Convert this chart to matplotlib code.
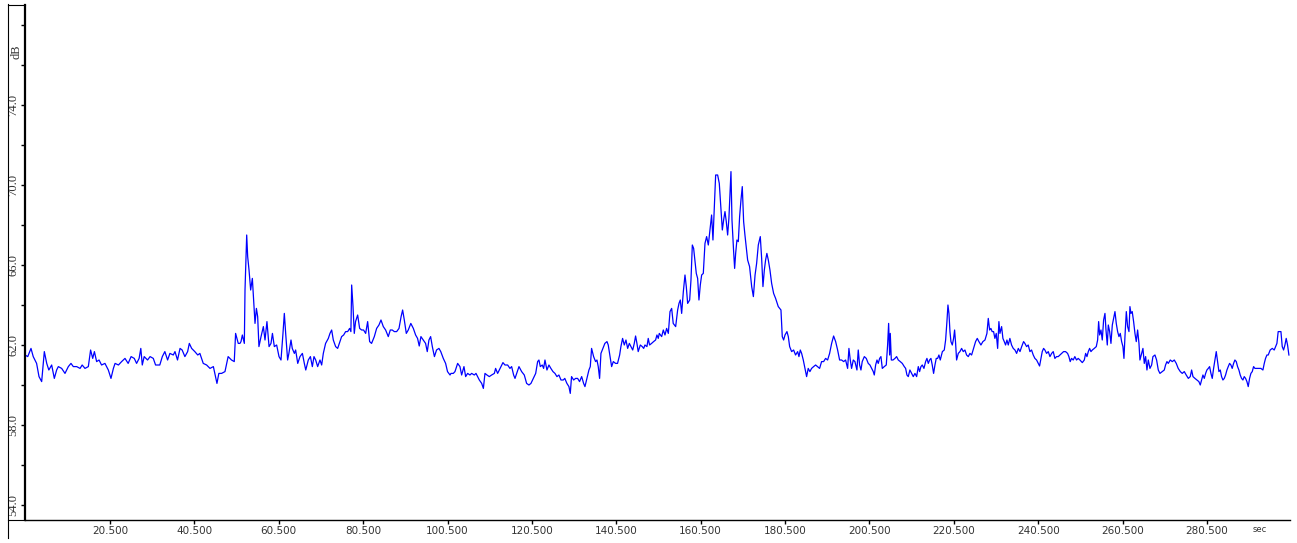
import matplotlib
matplotlib.use("Agg")
import matplotlib.pyplot as plt
from matplotlib.lines import Line2D

# sound level trace (sec, dB)
t = [
    0.35, 1.0, 1.77, 2.3, 3.1, 3.67, 4.3, 4.93, 5.5, 6.0, 6.67, 7.3, 7.85, 8.25, 9.04, 9.83,
    10.62, 11.25, 11.8, 12.6, 13.4, 13.9, 14.57, 15.36, 15.9, 16.4, 16.8, 17.33, 17.9, 18.5,
    19.3, 20.1, 20.73, 21.3, 21.7, 22.5, 23.25, 24.05, 24.8, 25.5, 26.25, 26.8, 27.4, 27.8,
    28.15, 28.6, 29.4, 30.0, 30.76, 31.3, 32.3, 32.9, 33.5, 34.15, 34.7, 35.5, 35.9, 36.5,
    37.1, 37.6, 38.25, 38.9, 39.3, 39.85, 40.6, 41.3, 41.8, 42.6, 43.4, 44.2, 45.0, 45.5,
    45.85, 46.3, 46.95, 47.75, 48.5, 49.3, 49.95, 50.27, 50.9, 51.3,
    # 51 - 101
    51.55, 51.87, 52.34, 52.5, 52.9, 53.13, 53.45, 53.84, 54.24, 54.55, 54.87, 55.2, 55.5,
    55.8, 56.3, 56.85, 57.24, 57.7, 58.2, 58.66, 59.0, 59.45, 60.0, 60.56, 61.03, 61.5,
    61.82, 62.14, 62.6, 62.9, 63.4, 63.7, 64.2, 64.5, 65.0, 65.53, 66.1, 66.56, 66.9, 67.5,
    68.0, 68.46, 68.85, 69.25, 69.72, 70.27, 70.67, 71.06, 71.6, 72.25, 72.64, 73.04, 73.43,
    73.98, 74.46, 75.0, 75.4, 75.88, 76.35, 76.83, 77.3, 77.6, 77.78, 78.1, 78.4, 78.7,
    79.2, 79.67, 80.15, 80.6, 81.1, 81.57, 82.04, 82.5, 83.15, 83.7, 84.25, 84.73, 85.28,
    85.83, 86.46, 86.94, 87.4, 87.9, 88.44, 89.0, 89.5, 89.86, 90.26, 90.73, 91.2, 91.8,
    92.4, 92.94, 93.4, 93.8, 94.2, 94.76, 95.3, 95.7, 96.1, 96.5, 96.9, 97.4, 97.9, 98.47,
    98.9, 99.5, 100.05, 100.5, 101.1,
    # 101 - 151
    101.32, 101.87, 102.27, 102.9, 103.45, 103.85, 104.4, 104.8, 105.27, 105.82, 106.22,
    106.85, 107.25, 107.64, 108.04, 108.6, 109.0, 109.38, 109.85, 110.4, 110.96, 111.6,
    111.9, 112.38, 112.78, 113.17, 113.64, 114.12, 114.75, 115.3, 115.7, 116.17, 116.5,
    117.04, 117.44, 118.07, 118.7, 119.25, 119.8, 120.28, 120.83, 121.4, 121.86, 122.17,
    122.5, 122.96, 123.28, 123.6, 124.07, 124.54, 125.0, 125.5, 125.97, 126.44, 126.9,
    127.4, 127.94, 128.3, 128.8, 129.28, 129.6, 129.9, 130.4, 130.86, 131.34, 131.8, 132.3,
    132.76, 133.08, 133.55, 134.02, 134.34, 134.65, 135.13, 135.6, 135.92, 136.23, 136.55,
    136.87, 137.34, 137.8, 138.3, 138.6, 138.92, 139.4, 139.8, 140.34, 140.8, 141.3, 141.6,
    142.0, 142.4, 142.8, 143.2, 143.6, 144.0, 144.4, 144.77, 145.08, 145.4, 145.7, 146.2,
    146.66, 147.0, 147.3, 147.77, 148.08, 148.4, 148.87, 149.35, 149.82, 150.14, 150.45, 150.7,
    # 151 - 201
    151.26, 151.65, 152.05, 152.44, 152.84, 153.24, 153.63, 154.0, 154.58, 155.05, 155.37,
    155.68, 156.0, 156.4, 156.79, 157.1, 157.42, 157.9, 158.21, 158.53, 158.84, 159.16,
    159.47, 159.79, 160.1, 160.42, 160.74, 161.13, 161.53, 161.92, 162.32, 162.71, 163.1,
    163.42, 163.74, 164.06, 164.53, 164.92, 165.24, 165.64, 165.95, 166.27, 166.58, 166.9,
    167.2, 167.5, 167.69, 167.93, 168.32, 168.56, 168.8, 169.1, 169.43, 169.74, 170.06,
    170.37, 170.69, 171.0, 171.3, 171.64, 172.1, 172.6, 173.0, 173.4, 173.77, 174.17, 174.64,
    174.96, 175.27, 175.6, 175.9, 176.2, 176.54, 176.93, 177.33, 177.8, 178.27, 178.9,
    179.54, 179.85, 180.17, 180.5, 180.96, 181.28, 181.6, 182.07, 182.54, 183.0, 183.5,
    183.8, 184.12, 184.44, 184.83, 185.23, 185.62, 186.0, 186.4, 186.8, 187.28, 187.75,
    188.2, 188.7, 189.17, 189.65, 190.12, 190.6, 191.07, 191.55, 192.02, 192.5, 192.97,
    193.44, 193.91, 194.4, 194.86, 195.34, 195.65, 195.97, 196.28, 196.68, 197.07, 197.55,
    197.86, 198.18, 198.5, 198.8, 199.3, 199.76, 200.23, 200.63,
    # 201 - 251
    201.03, 201.42, 201.66, 201.98, 202.3, 202.6, 202.93, 203.24, 203.56, 204.03, 204.5,
    204.82, 205.06, 205.3, 205.45, 205.7, 206.1, 206.56, 206.95, 207.35, 207.82, 208.3,
    208.77, 209.09, 209.4, 209.72, 210.1, 210.5, 210.9, 211.3, 211.7, 212.09, 212.4, 212.72,
    213.04, 213.43, 213.83, 214.14, 214.46, 214.77, 215.09, 215.4, 215.72, 216.04, 216.35,
    216.67, 216.98, 217.3, 217.8, 218.25, 218.57, 218.88, 219.12, 219.36, 219.6, 219.83,
    220.15, 220.46, 220.7, 220.94, 221.17, 221.57, 221.96, 222.36, 222.75, 223.15, 223.54,
    223.94, 224.33, 224.73, 225.2, 225.67, 226.07, 226.46, 226.94, 227.4, 227.9, 228.36,
    228.68, 229.0, 229.3, 229.6, 229.94, 230.25, 230.57, 230.9, 231.2, 231.44, 231.84,
    232.15, 232.47, 232.78, 233.1, 233.42, 233.8, 234.2, 234.6, 235.0, 235.4, 235.8, 236.2,
    236.6, 237.05, 237.36, 237.76, 238.15, 238.55, 238.94, 239.34, 239.73, 240.13, 240.52,
    240.84, 241.16, 241.47, 241.79, 242.1, 242.5, 242.9, 243.3, 243.7, 244.08, 244.47,
    244.87, 245.26, 245.66, 246.05, 246.53, 247.0, 247.48, 247.79, 248.1, 248.42, 248.82,
    249.2, 249.6, 250.0, 250.4,
    # 251 - 300
    250.97, 251.44, 251.76, 252.07, 252.39, 252.7, 253.02, 253.34, 253.81, 254.28, 254.6,
    254.84, 255.08, 255.39, 255.7, 256.02, 256.34, 256.58, 256.89, 257.13, 257.45, 257.76,
    258.08, 258.39, 258.71, 259.02, 259.34, 259.66, 259.97, 260.29, 260.6, 260.84, 261.08,
    261.4, 261.71, 262.03, 262.26, 262.5, 262.8, 263.13, 263.45, 263.76, 264.08, 264.4,
    264.63, 265.03, 265.34, 265.66, 265.98, 266.29, 266.61, 267.0, 267.4, 267.71, 268.19,
    268.58, 268.98, 269.37, 269.93, 270.4, 270.7, 271.03, 271.35, 271.82, 272.3, 272.77,
    273.24, 273.7, 274.2, 274.66, 275.14, 275.6, 276.1, 276.56, 276.88, 277.2, 277.67,
    278.14, 278.6, 278.93, 279.25, 279.56, 279.88, 280.2, 280.5, 280.83, 281.14, 281.46,
    281.77, 282.09, 282.4, 282.72, 283.04, 283.35, 283.67, 283.98, 284.3, 284.62, 284.93,
    285.25, 285.56, 285.88, 286.2, 286.5, 286.83, 287.14, 287.46, 287.77, 288.09, 288.4,
    288.72, 289.04, 289.35, 289.67, 289.99, 290.3, 290.62, 290.93, 291.25, 291.57, 291.88,
    292.36, 292.83, 293.3, 293.78, 294.1, 294.4, 294.73, 295.04, 295.5, 296.0, 296.46,
    296.78, 297.1, 297.4, 297.73, 298.05, 298.36, 298.68, 299.0, 299.3, 299.62, 299.94,
]

db = [
    61.5, 61.42, 61.83, 61.42, 61.08, 60.42, 60.17, 61.67, 61.08, 60.75, 61.0, 60.33, 60.75,
    60.92, 60.83, 60.58, 60.92, 61.08, 60.92, 60.92, 60.83, 61.0, 60.83, 60.92, 61.75, 61.33,
    61.67, 61.17, 61.25, 61.0, 61.08, 60.75, 60.33, 60.83, 61.08, 61.0, 61.17, 61.33, 61.08,
    61.42, 61.33, 61.08, 61.33, 61.83, 61.0, 61.42, 61.25, 61.42, 61.33, 61.0, 61.0, 61.42,
    61.67, 61.25, 61.58, 61.5, 61.67, 61.25, 61.83, 61.75, 61.42, 61.67, 62.08, 61.83, 61.67,
    61.5, 61.58, 61.08, 61.0, 60.83, 60.92, 60.42, 60.08, 60.58, 60.58, 60.67, 61.42, 61.25,
    61.17, 62.58, 62.08, 62.08,
    # 51 - 101
    62.17, 62.5, 62.08, 64.75, 67.5, 66.42, 65.75, 64.75, 65.33, 64.25, 63.08, 63.83, 63.42,
    61.92, 62.42, 62.92, 62.25, 63.17, 61.92, 62.08, 62.58, 61.92, 62.0, 61.42, 61.25, 62.58,
    63.58, 62.58, 61.25, 61.58, 62.25, 61.83, 61.58, 61.75, 61.08, 61.42, 61.58, 61.08, 60.75,
    61.25, 61.42, 60.92, 61.42, 61.25, 60.92, 61.25, 61.0, 61.58, 62.08, 62.33, 62.58, 62.75,
    62.25, 61.92, 61.83, 62.17, 62.42, 62.5, 62.67, 62.67, 62.83, 62.67, 65.0, 63.92, 62.58,
    63.17, 63.5, 62.83, 62.75, 62.75, 62.58, 63.17, 62.17, 62.08, 62.42, 62.83, 63.0, 63.25,
    62.92, 62.75, 62.42, 62.75, 62.75, 62.67, 62.67, 62.83, 63.42, 63.75, 63.25, 62.58, 62.75,
    63.08, 62.83, 62.5, 62.33, 61.95, 62.42, 62.25, 62.08, 61.67, 62.25, 62.42, 61.92, 61.42,
    61.75, 61.83, 61.67, 61.33, 61.08, 60.67, 60.5,
    # 101 - 151
    60.58, 60.58, 60.67, 61.08, 60.92, 60.5, 60.92, 60.42, 60.58, 60.5, 60.58, 60.5, 60.58,
    60.42, 60.25, 60.08, 59.83, 60.58, 60.5, 60.42, 60.5, 60.58, 60.83, 60.58, 60.75, 60.92,
    61.12, 61.0, 61.0, 60.83, 60.92, 60.5, 60.33, 60.67, 60.92, 60.67, 60.5, 60.08, 60.0,
    60.08, 60.33, 60.58, 61.17, 61.25, 60.92, 61.0, 60.83, 61.25, 60.75, 61.0, 60.83, 60.67,
    60.58, 60.42, 60.5, 60.25, 60.25, 60.33, 60.08, 59.92, 59.58, 60.42, 60.25, 60.33, 60.33,
    60.17, 60.42, 60.08, 59.92, 60.33, 60.75, 60.92, 61.83, 61.42, 61.17, 61.25, 60.92, 60.33,
    61.58, 61.83, 62.08, 62.17, 62.0, 61.58, 60.92, 61.17, 61.08, 61.08, 61.5, 61.92, 62.33,
    62.0, 62.25, 61.83, 62.08, 61.92, 61.75, 62.08, 62.45, 62.08, 61.67, 62.0, 61.92, 61.83,
    62.0, 61.92, 62.33, 62.0, 62.08, 62.17, 62.25, 62.5, 62.33, 62.58,
    # 151 - 201
    62.42, 62.75, 62.5, 62.83, 62.58, 63.67, 63.83, 63.08, 62.92, 63.75, 64.08, 64.25, 63.58,
    64.67, 65.5, 64.92, 64.08, 64.25, 65.25, 67.0, 66.83, 66.17, 65.58, 65.33, 64.25, 65.0,
    65.5, 65.58, 67.08, 67.42, 67.0, 67.75, 68.5, 67.25, 68.92, 70.5, 70.5, 70.08, 69.08,
    67.75, 68.25, 68.67, 68.17, 67.5, 68.33, 69.83, 70.67, 68.25, 66.67, 65.83, 66.58, 67.25,
    67.17, 68.42, 69.25, 69.92, 68.17, 67.5, 66.92, 66.25, 65.92, 64.92, 64.42, 65.5, 66.08,
    67.0, 67.42, 66.33, 64.92, 65.75, 66.25, 66.58, 66.25, 65.75, 65.08, 64.58, 64.33, 63.92,
    63.75, 62.42, 62.25, 62.5, 62.67, 62.42, 61.92, 61.67, 61.75, 61.5, 61.67, 61.42, 61.75,
    61.58, 61.25, 60.83, 60.42, 60.83, 60.67, 60.83, 60.92, 61.0, 60.92, 60.83, 61.17, 61.17,
    61.33, 61.25, 61.58, 62.08, 62.45, 62.17, 61.75, 61.25, 61.25, 61.17, 61.25, 60.83, 61.83,
    61.25, 60.83, 61.25, 61.17, 60.75, 61.75, 61.0, 60.75, 61.17, 61.42, 61.33, 61.08, 61.0,
    # 201 - 251
    60.83, 60.67, 60.5, 61.0, 61.25, 61.08, 61.33, 61.42, 60.83, 60.92, 61.0, 62.0, 63.08,
    61.5, 62.58, 61.25, 61.25, 61.33, 61.42, 61.25, 61.17, 61.08, 60.92, 60.83, 60.5, 60.42,
    60.75, 60.58, 60.42, 60.58, 60.42, 60.92, 60.67, 60.92, 61.0, 60.83, 61.17, 61.33, 61.08,
    61.25, 61.33, 61.0, 60.58, 61.0, 61.33, 61.33, 61.5, 61.25, 61.67, 61.75, 62.25, 63.17,
    64.0, 63.58, 62.67, 62.17, 62.0, 62.33, 62.75, 62.08, 61.25, 61.58, 61.67, 61.83, 61.67,
    61.75, 61.5, 61.42, 61.58, 61.5, 61.83, 62.17, 62.33, 62.17, 62.0, 62.17, 62.25, 62.58,
    63.33, 62.75, 62.83, 62.67, 62.67, 62.33, 62.58, 61.83, 63.17, 62.58, 62.92, 62.33, 62.17,
    62.0, 62.25, 62.0, 62.33, 62.0, 61.83, 61.75, 61.58, 61.83, 61.67, 61.92, 62.17, 62.08,
    61.92, 62.0, 61.67, 61.75, 61.5, 61.33, 61.25, 61.08, 60.95, 61.33, 61.67, 61.83, 61.75,
    61.58, 61.67, 61.42, 61.58, 61.67, 61.33, 61.42, 61.42, 61.5, 61.58, 61.67, 61.67, 61.58,
    61.42, 61.17, 61.33, 61.25, 61.42, 61.25, 61.33, 61.25,
    # 251 - 300
    61.12, 61.25, 61.58, 61.42, 61.67, 61.83, 61.67, 61.75, 61.83, 61.92, 62.25, 63.17, 62.5,
    62.75, 62.25, 63.25, 63.58, 62.75, 62.0, 63.0, 62.67, 62.08, 63.0, 63.33, 63.67, 63.08,
    62.67, 62.42, 62.58, 62.17, 61.92, 61.33, 62.42, 63.67, 62.92, 62.67, 63.92, 63.58, 63.67,
    63.17, 62.58, 62.17, 62.75, 62.08, 61.25, 61.58, 61.83, 61.08, 61.42, 60.75, 61.25, 60.83,
    61.0, 61.42, 61.5, 61.25, 60.75, 60.58, 60.67, 60.75, 61.0, 61.17, 61.08, 61.25, 61.17,
    61.25, 61.08, 60.83, 60.67, 60.58, 60.67, 60.5, 60.33, 60.42, 60.75, 60.42, 60.33, 60.25,
    60.17, 60.0, 60.25, 60.5, 60.33, 60.58, 60.75, 60.83, 60.92, 60.58, 60.33, 60.83, 61.25,
    61.67, 61.17, 60.67, 60.75, 60.42, 60.25, 60.33, 60.5, 60.75, 60.92, 61.08, 61.0, 60.83,
    61.08, 61.25, 61.17, 60.92, 60.75, 60.5, 60.33, 60.25, 60.42, 60.33, 60.17, 59.92, 60.33,
    60.58, 60.67, 60.92, 60.83, 60.83, 60.83, 60.83, 60.75, 61.08, 61.33, 61.5, 61.5, 61.75,
    61.83, 61.75, 61.92, 62.08, 62.67, 62.67, 62.67, 61.92, 61.75, 62.0, 62.33, 62.0, 61.5,
]

y_major = [54, 58, 62, 66, 70, 74]
y_minor = [56, 60, 64, 68, 72, 76, 78]
x_ticks = [20.5, 40.5, 60.5, 80.5, 100.5, 120.5, 140.5, 160.5, 180.5, 200.5, 220.5,
           240.5, 260.5, 280.5]
x_labels = ["%.3f" % v for v in x_ticks]

W, H = 1297, 543
fig = plt.figure(figsize=(W / 100, H / 100), dpi=100)
fig.patch.set_facecolor("white")
ax = fig.add_axes([25 / W, 1 - 520 / H, (1290 - 25) / W, (520 - 5) / H])

ax.plot(t, db, color="#0000ff", lw=0.9)
ax.set_xlim(0.35, 300.2)
ax.set_ylim(53.25, 79.0)

for s in ("top", "right"):
    ax.spines[s].set_visible(False)
ax.spines["left"].set_linewidth(1.6)
ax.spines["bottom"].set_linewidth(1.0)

ax.set_yticks(y_major)
ax.set_yticks(y_minor, minor=True)
ax.set_yticklabels(["%.1f" % v for v in y_major], rotation=90, va="center",
                   family="Liberation Serif", fontsize=9, color="#333333")
ax.tick_params(axis="y", which="both", direction="out", length=3, width=1, pad=1)

ax.set_xticks(x_ticks)
ax.set_xticklabels(x_labels, family="DejaVu Sans", fontsize=7.5, color="#333333")
ax.tick_params(axis="x", direction="out", length=3, width=1, pad=1.5)

# frame bits left of the axes
fig.add_artist(Line2D([7.5 / W, 7.5 / W], [1 - 4 / H, 1 - 538 / H], color="black", lw=0.8))
fig.add_artist(Line2D([7.5 / W, 25 / W], [1 - 4.5 / H, 1 - 4.5 / H], color="black", lw=0.8))
fig.add_artist(Line2D([7.5 / W, 25 / W], [1 - 520 / H, 1 - 520 / H], color="black", lw=0.8))

fig.text(16 / W, 1 - 52 / H, "dB", rotation=90, ha="center", va="center",
         family="Liberation Serif", fontsize=9, color="#333333")
fig.text(1260 / W, 1 - 529 / H, "sec", ha="center", va="center",
         family="DejaVu Sans", fontsize=6, color="#333333")

fig.savefig("out.png", dpi=100)
